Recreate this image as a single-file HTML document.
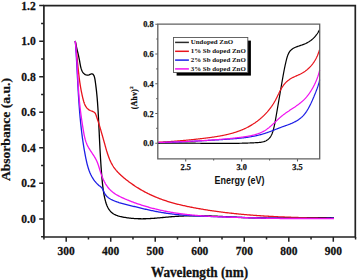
<!DOCTYPE html>
<html><head><meta charset="utf-8"><style>
html,body{margin:0;padding:0;background:#fff;width:357px;height:280px;overflow:hidden}
svg{display:block}

</style></head><body>
<svg width="357" height="280" viewBox="0 0 357 280"><rect width="357" height="280" fill="#fff"/><g fill="none" stroke-width="1.3" stroke-linejoin="round" stroke-linecap="butt"><path d="M75.29,40.96 L75.48,42.07 L75.68,43.14 L75.88,44.19 L76.09,45.22 L76.30,46.22 L76.52,47.21 L76.75,48.19 L76.97,49.15 L77.20,50.10 L77.43,51.05 L77.66,52.00 L77.89,52.95 L78.11,53.89 L78.34,54.85 L78.56,55.81 L78.78,56.79 L78.99,57.78 L79.19,58.79 L79.39,59.81 L79.58,60.86 L79.76,61.94 L79.95,63.03 L80.14,64.12 L80.34,65.22 L80.56,66.30 L80.81,67.36 L81.09,68.40 L81.41,69.39 L81.77,70.35 L82.19,71.24 L82.67,72.08 L83.21,72.84 L83.83,73.52 L84.53,74.10 L85.32,74.59 L86.18,74.96 L87.12,75.17 L88.10,75.17 L89.11,74.94 L90.13,74.46 L91.12,73.98 L92.01,73.80 L92.76,74.07 L93.40,74.71 L93.91,75.59 L94.30,76.58 L94.60,77.60 L94.82,78.62 L95.00,79.64 L95.15,80.67 L95.30,81.70 L95.45,82.72 L95.59,83.75 L95.72,84.77 L95.86,85.79 L95.98,86.82 L96.11,87.84 L96.23,88.86 L96.35,89.89 L96.46,90.91 L96.57,91.93 L96.67,92.95 L96.78,93.97 L96.88,94.99 L96.97,96.01 L97.07,97.03 L97.16,98.05 L97.24,99.07 L97.33,100.09 L97.41,101.11 L97.49,102.13 L97.57,103.15 L97.64,104.17 L97.71,105.19 L97.78,106.21 L97.85,107.23 L97.92,108.25 L97.98,109.27 L98.04,110.29 L98.11,111.31 L98.17,112.33 L98.22,113.35 L98.28,114.37 L98.34,115.39 L98.39,116.41 L98.45,117.43 L98.50,118.45 L98.55,119.47 L98.60,120.49 L98.65,121.52 L98.70,122.54 L98.75,123.56 L98.80,124.59 L98.85,125.61 L98.90,126.63 L98.95,127.66 L99.00,128.68 L99.05,129.71 L99.10,130.74 L99.15,131.76 L99.20,132.79 L99.25,133.81 L99.29,134.84 L99.34,135.87 L99.39,136.89 L99.44,137.92 L99.49,138.94 L99.54,139.97 L99.59,141.00 L99.64,142.03 L99.69,143.05 L99.74,144.08 L99.80,145.11 L99.85,146.13 L99.90,147.16 L99.95,148.19 L100.01,149.21 L100.06,150.24 L100.12,151.26 L100.17,152.29 L100.23,153.32 L100.29,154.34 L100.35,155.37 L100.41,156.39 L100.47,157.42 L100.53,158.44 L100.59,159.46 L100.66,160.49 L100.72,161.51 L100.79,162.53 L100.85,163.56 L100.92,164.58 L100.99,165.60 L101.06,166.62 L101.13,167.64 L101.21,168.66 L101.28,169.68 L101.36,170.70 L101.44,171.72 L101.52,172.74 L101.60,173.76 L101.68,174.77 L101.76,175.79 L101.85,176.80 L101.94,177.82 L102.03,178.83 L102.12,179.85 L102.21,180.86 L102.31,181.87 L102.41,182.88 L102.51,183.89 L102.62,184.90 L102.73,185.91 L102.85,186.93 L102.97,187.94 L103.10,188.95 L103.24,189.96 L103.39,190.97 L103.55,191.99 L103.71,193.00 L103.89,194.02 L104.08,195.04 L104.28,196.06 L104.50,197.08 L104.72,198.11 L104.96,199.13 L105.22,200.16 L105.49,201.18 L105.79,202.20 L106.10,203.20 L106.45,204.19 L106.81,205.17 L107.21,206.12 L107.64,207.05 L108.10,207.95 L108.60,208.82 L109.14,209.65 L109.72,210.44 L110.34,211.19 L111.00,211.90 L111.72,212.55 L112.48,213.15 L113.29,213.71 L114.14,214.21 L115.03,214.67 L115.95,215.09 L116.90,215.47 L117.88,215.82 L118.88,216.13 L119.90,216.42 L120.94,216.67 L121.98,216.90 L123.03,217.11 L124.09,217.31 L125.14,217.48 L126.19,217.65 L127.23,217.80 L128.27,217.94 L129.31,218.07 L130.34,218.18 L131.37,218.29 L132.39,218.38 L133.42,218.47 L134.44,218.54 L135.46,218.60 L136.47,218.65 L137.49,218.70 L138.50,218.73 L139.51,218.75 L140.52,218.77 L141.53,218.78 L142.54,218.78 L143.55,218.77 L144.55,218.75 L145.56,218.73 L146.57,218.70 L147.58,218.66 L148.59,218.61 L149.61,218.56 L150.62,218.51 L151.64,218.44 L152.65,218.38 L153.67,218.30 L154.69,218.23 L155.72,218.15 L156.74,218.06 L157.76,217.97 L158.79,217.88 L159.81,217.79 L160.84,217.70 L161.86,217.60 L162.89,217.51 L163.92,217.41 L164.95,217.32 L165.98,217.22 L167.00,217.13 L168.03,217.03 L169.06,216.94 L170.09,216.85 L171.11,216.77 L172.14,216.69 L173.17,216.61 L174.19,216.53 L175.22,216.46 L176.24,216.39 L177.27,216.33 L178.29,216.26 L179.31,216.21 L180.34,216.15 L181.36,216.10 L182.38,216.05 L183.41,216.01 L184.43,215.97 L185.45,215.93 L186.47,215.89 L187.49,215.86 L188.51,215.83 L189.54,215.81 L190.56,215.79 L191.58,215.77 L192.60,215.76 L193.62,215.75 L194.64,215.74 L195.66,215.73 L196.68,215.73 L197.71,215.73 L198.73,215.74 L199.75,215.74 L200.77,215.76 L201.79,215.77 L202.82,215.79 L203.84,215.81 L204.86,215.83 L205.88,215.85 L206.91,215.88 L207.93,215.91 L208.95,215.95 L209.98,215.98 L211.00,216.02 L212.03,216.05 L213.05,216.10 L214.07,216.14 L215.10,216.18 L216.12,216.23 L217.15,216.27 L218.17,216.32 L219.20,216.37 L220.22,216.42 L221.25,216.47 L222.27,216.52 L223.30,216.57 L224.32,216.62 L225.35,216.68 L226.37,216.73 L227.40,216.78 L228.42,216.84 L229.45,216.89 L230.47,216.94 L231.50,217.00 L232.53,217.05 L233.55,217.10 L234.58,217.15 L235.60,217.20 L236.63,217.25 L237.65,217.30 L238.68,217.35 L239.70,217.40 L240.73,217.44 L241.76,217.48 L242.78,217.53 L243.81,217.57 L244.83,217.60 L245.86,217.64 L246.88,217.68 L247.91,217.71 L248.93,217.74 L249.96,217.77 L250.98,217.80 L252.01,217.82 L253.03,217.85 L254.06,217.87 L255.08,217.89 L256.11,217.91 L257.13,217.93 L258.16,217.94 L259.18,217.96 L260.21,217.97 L261.23,217.98 L262.26,217.99 L263.28,218.00 L264.31,218.01 L265.33,218.02 L266.36,218.02 L267.38,218.03 L268.41,218.03 L269.43,218.04 L270.45,218.04 L271.48,218.04 L272.50,218.04 L273.53,218.04 L274.55,218.03 L275.58,218.03 L276.60,218.03 L277.63,218.02 L278.65,218.02 L279.68,218.01 L280.70,218.01 L281.72,218.00 L282.75,217.99 L283.77,217.98 L284.80,217.98 L285.82,217.97 L286.85,217.96 L287.87,217.95 L288.90,217.94 L289.92,217.93 L290.94,217.92 L291.97,217.91 L292.99,217.90 L294.02,217.89 L295.04,217.88 L296.07,217.87 L297.09,217.86 L298.12,217.84 L299.14,217.83 L300.17,217.82 L301.19,217.81 L302.21,217.80 L303.24,217.79 L304.26,217.78 L305.29,217.78 L306.31,217.77 L307.34,217.76 L308.36,217.75 L309.39,217.74 L310.41,217.74 L311.44,217.73 L312.46,217.72 L313.49,217.72 L314.51,217.72 L315.54,217.71 L316.56,217.71 L317.59,217.71 L318.61,217.71 L319.64,217.71 L320.67,217.71 L321.69,217.71 L322.72,217.71 L323.74,217.71 L324.77,217.72 L325.79,217.72 L326.82,217.73 L327.85,217.74 L328.87,217.75 L329.90,217.76 L330.92,217.77 L331.95,217.78 L332.98,217.80 L334.00,217.82" stroke="#000"/><path d="M75.28,40.99 L75.40,41.91 L75.51,42.83 L75.63,43.76 L75.74,44.68 L75.85,45.60 L75.95,46.52 L76.06,47.44 L76.16,48.36 L76.26,49.28 L76.36,50.20 L76.45,51.12 L76.55,52.04 L76.64,52.96 L76.73,53.88 L76.82,54.80 L76.91,55.72 L77.00,56.64 L77.09,57.56 L77.18,58.47 L77.27,59.39 L77.35,60.31 L77.44,61.23 L77.53,62.15 L77.62,63.06 L77.71,63.98 L77.79,64.90 L77.88,65.81 L77.98,66.73 L78.07,67.65 L78.16,68.56 L78.26,69.48 L78.35,70.39 L78.45,71.31 L78.55,72.22 L78.65,73.14 L78.76,74.06 L78.86,74.97 L78.97,75.89 L79.08,76.80 L79.20,77.71 L79.32,78.63 L79.44,79.54 L79.56,80.46 L79.69,81.37 L79.82,82.29 L79.95,83.20 L80.09,84.11 L80.24,85.03 L80.38,85.94 L80.53,86.85 L80.69,87.77 L80.85,88.68 L81.02,89.59 L81.19,90.51 L81.36,91.42 L81.54,92.33 L81.73,93.24 L81.92,94.16 L82.12,95.07 L82.33,95.98 L82.54,96.89 L82.75,97.81 L82.98,98.72 L83.21,99.63 L83.45,100.54 L83.70,101.44 L83.97,102.33 L84.27,103.20 L84.59,104.06 L84.95,104.88 L85.34,105.68 L85.77,106.45 L86.25,107.18 L86.77,107.86 L87.35,108.50 L87.99,109.09 L88.70,109.62 L89.46,110.09 L90.31,110.50 L91.20,110.86 L92.12,111.20 L93.01,111.56 L93.83,111.98 L94.55,112.49 L95.12,113.13 L95.55,113.88 L95.89,114.72 L96.19,115.58 L96.49,116.44 L96.79,117.31 L97.08,118.18 L97.36,119.05 L97.65,119.92 L97.93,120.79 L98.21,121.66 L98.49,122.53 L98.76,123.41 L99.03,124.28 L99.30,125.16 L99.57,126.03 L99.83,126.91 L100.09,127.79 L100.35,128.67 L100.61,129.55 L100.87,130.43 L101.13,131.31 L101.38,132.20 L101.64,133.08 L101.89,133.97 L102.14,134.86 L102.39,135.75 L102.64,136.64 L102.89,137.53 L103.14,138.42 L103.39,139.31 L103.64,140.20 L103.89,141.10 L104.14,142.00 L104.39,142.89 L104.64,143.79 L104.89,144.69 L105.14,145.59 L105.39,146.50 L105.65,147.40 L105.90,148.30 L106.16,149.21 L106.43,150.11 L106.69,151.01 L106.97,151.90 L107.25,152.80 L107.53,153.69 L107.83,154.58 L108.13,155.46 L108.44,156.33 L108.76,157.21 L109.09,158.07 L109.44,158.93 L109.79,159.78 L110.16,160.62 L110.54,161.46 L110.93,162.28 L111.34,163.10 L111.77,163.90 L112.21,164.70 L112.67,165.48 L113.15,166.25 L113.64,167.01 L114.16,167.76 L114.69,168.49 L115.25,169.21 L115.82,169.92 L116.40,170.61 L117.01,171.30 L117.62,171.97 L118.25,172.63 L118.90,173.29 L119.55,173.93 L120.22,174.57 L120.89,175.19 L121.58,175.81 L122.27,176.42 L122.97,177.03 L123.68,177.63 L124.39,178.22 L125.10,178.81 L125.82,179.39 L126.54,179.97 L127.27,180.54 L128.01,181.10 L128.74,181.66 L129.48,182.21 L130.23,182.76 L130.98,183.30 L131.73,183.84 L132.49,184.37 L133.25,184.89 L134.02,185.41 L134.79,185.93 L135.56,186.43 L136.34,186.93 L137.12,187.43 L137.91,187.92 L138.70,188.40 L139.49,188.88 L140.28,189.35 L141.08,189.82 L141.88,190.28 L142.69,190.73 L143.50,191.18 L144.31,191.62 L145.13,192.06 L145.95,192.49 L146.77,192.91 L147.59,193.33 L148.42,193.74 L149.25,194.15 L150.08,194.55 L150.92,194.94 L151.76,195.33 L152.60,195.71 L153.44,196.08 L154.29,196.45 L155.14,196.82 L155.99,197.17 L156.84,197.52 L157.70,197.87 L158.56,198.21 L159.42,198.54 L160.28,198.87 L161.14,199.19 L162.01,199.50 L162.88,199.81 L163.75,200.11 L164.62,200.41 L165.50,200.70 L166.37,200.99 L167.25,201.27 L168.13,201.54 L169.01,201.81 L169.90,202.08 L170.78,202.34 L171.67,202.60 L172.55,202.85 L173.44,203.09 L174.33,203.34 L175.22,203.57 L176.12,203.81 L177.01,204.04 L177.91,204.26 L178.80,204.49 L179.70,204.70 L180.60,204.92 L181.50,205.13 L182.40,205.34 L183.30,205.54 L184.20,205.74 L185.11,205.94 L186.01,206.13 L186.91,206.33 L187.82,206.52 L188.72,206.70 L189.63,206.89 L190.54,207.07 L191.44,207.25 L192.35,207.42 L193.26,207.60 L194.17,207.77 L195.08,207.94 L195.98,208.11 L196.89,208.28 L197.80,208.44 L198.71,208.60 L199.62,208.76 L200.53,208.92 L201.44,209.08 L202.35,209.23 L203.26,209.39 L204.18,209.54 L205.09,209.69 L206.00,209.84 L206.91,209.98 L207.82,210.13 L208.74,210.27 L209.65,210.41 L210.56,210.55 L211.47,210.68 L212.39,210.82 L213.30,210.95 L214.22,211.08 L215.13,211.21 L216.04,211.34 L216.96,211.47 L217.87,211.59 L218.79,211.72 L219.70,211.84 L220.62,211.96 L221.53,212.08 L222.45,212.19 L223.37,212.31 L224.28,212.42 L225.20,212.53 L226.12,212.64 L227.03,212.75 L227.95,212.86 L228.87,212.96 L229.78,213.07 L230.70,213.17 L231.62,213.27 L232.54,213.37 L233.46,213.47 L234.37,213.57 L235.29,213.66 L236.21,213.76 L237.13,213.85 L238.05,213.94 L238.97,214.03 L239.89,214.12 L240.81,214.21 L241.73,214.29 L242.65,214.38 L243.57,214.46 L244.49,214.54 L245.41,214.62 L246.33,214.70 L247.25,214.78 L248.17,214.86 L249.09,214.93 L250.01,215.01 L250.93,215.08 L251.85,215.15 L252.77,215.22 L253.69,215.29 L254.62,215.36 L255.54,215.43 L256.46,215.50 L257.38,215.56 L258.30,215.62 L259.22,215.69 L260.15,215.75 L261.07,215.81 L261.99,215.87 L262.91,215.93 L263.84,215.99 L264.76,216.04 L265.68,216.10 L266.60,216.15 L267.53,216.21 L268.45,216.26 L269.37,216.31 L270.30,216.36 L271.22,216.41 L272.14,216.46 L273.06,216.51 L273.99,216.56 L274.91,216.60 L275.83,216.65 L276.76,216.69 L277.68,216.74 L278.60,216.78 L279.53,216.82 L280.45,216.86 L281.37,216.90 L282.30,216.94 L283.22,216.98 L284.15,217.02 L285.07,217.06 L285.99,217.09 L286.92,217.13 L287.84,217.17 L288.76,217.20 L289.69,217.24 L290.61,217.27 L291.53,217.30 L292.46,217.33 L293.38,217.37 L294.31,217.40 L295.23,217.43 L296.15,217.46 L297.08,217.49 L298.00,217.52 L298.92,217.54 L299.85,217.57 L300.77,217.60 L301.69,217.63 L302.62,217.65 L303.54,217.68 L304.47,217.70 L305.39,217.73 L306.31,217.75 L307.24,217.78 L308.16,217.80 L309.08,217.82 L310.00,217.85 L310.93,217.87 L311.85,217.89 L312.77,217.91 L313.70,217.93 L314.62,217.95 L315.54,217.98 L316.47,218.00 L317.39,218.02 L318.31,218.04 L319.23,218.06 L320.16,218.08 L321.08,218.10 L322.00,218.11 L322.92,218.13 L323.84,218.15 L324.77,218.17 L325.69,218.19 L326.61,218.21 L327.53,218.23 L328.45,218.24 L329.37,218.26 L330.30,218.28 L331.22,218.30 L332.14,218.31 L333.06,218.33 L333.98,218.35" stroke="#e8141c"/><path d="M75.31,40.99 L75.38,41.97 L75.45,42.96 L75.52,43.94 L75.59,44.92 L75.66,45.90 L75.73,46.89 L75.79,47.87 L75.86,48.85 L75.92,49.83 L75.98,50.82 L76.04,51.80 L76.10,52.78 L76.16,53.76 L76.22,54.75 L76.28,55.73 L76.34,56.71 L76.40,57.69 L76.45,58.68 L76.51,59.66 L76.56,60.64 L76.62,61.63 L76.67,62.61 L76.73,63.59 L76.78,64.57 L76.83,65.56 L76.89,66.54 L76.94,67.52 L76.99,68.51 L77.04,69.49 L77.09,70.47 L77.14,71.45 L77.20,72.44 L77.25,73.42 L77.30,74.40 L77.35,75.39 L77.40,76.37 L77.45,77.35 L77.51,78.33 L77.56,79.32 L77.61,80.30 L77.66,81.28 L77.71,82.26 L77.77,83.25 L77.82,84.23 L77.87,85.21 L77.93,86.19 L77.98,87.17 L78.04,88.16 L78.09,89.14 L78.15,90.12 L78.21,91.10 L78.27,92.08 L78.32,93.07 L78.38,94.05 L78.44,95.03 L78.50,96.01 L78.57,96.99 L78.63,97.97 L78.69,98.96 L78.76,99.94 L78.82,100.92 L78.89,101.90 L78.96,102.88 L79.03,103.86 L79.10,104.84 L79.17,105.82 L79.24,106.80 L79.31,107.78 L79.39,108.76 L79.46,109.74 L79.54,110.72 L79.62,111.70 L79.70,112.68 L79.78,113.66 L79.87,114.64 L79.95,115.62 L80.04,116.60 L80.13,117.58 L80.22,118.55 L80.31,119.53 L80.41,120.51 L80.50,121.49 L80.60,122.47 L80.70,123.45 L80.80,124.42 L80.91,125.40 L81.01,126.38 L81.12,127.35 L81.23,128.33 L81.34,129.31 L81.46,130.28 L81.57,131.26 L81.69,132.24 L81.81,133.21 L81.94,134.19 L82.06,135.16 L82.19,136.14 L82.32,137.11 L82.45,138.09 L82.59,139.06 L82.73,140.04 L82.87,141.01 L83.01,141.99 L83.16,142.96 L83.31,143.93 L83.46,144.91 L83.61,145.88 L83.77,146.85 L83.93,147.83 L84.09,148.80 L84.26,149.77 L84.43,150.74 L84.60,151.71 L84.78,152.69 L84.95,153.66 L85.14,154.63 L85.32,155.60 L85.51,156.57 L85.70,157.54 L85.89,158.51 L86.09,159.48 L86.30,160.44 L86.51,161.41 L86.73,162.37 L86.96,163.33 L87.20,164.29 L87.45,165.24 L87.71,166.18 L87.98,167.13 L88.26,168.06 L88.56,168.99 L88.88,169.92 L89.21,170.84 L89.56,171.75 L89.92,172.65 L90.31,173.54 L90.71,174.43 L91.14,175.30 L91.59,176.17 L92.06,177.02 L92.56,177.86 L93.08,178.70 L93.62,179.52 L94.20,180.32 L94.79,181.12 L95.42,181.89 L96.07,182.65 L96.74,183.38 L97.44,184.08 L98.16,184.76 L98.90,185.40 L99.67,186.01 L100.43,186.60 L101.16,187.22 L101.82,187.92 L102.38,188.72 L102.88,189.60 L103.33,190.52 L103.75,191.48 L104.18,192.43 L104.62,193.35 L105.12,194.22 L105.68,195.03 L106.28,195.78 L106.94,196.48 L107.63,197.12 L108.37,197.72 L109.15,198.27 L109.95,198.79 L110.79,199.26 L111.65,199.71 L112.52,200.13 L113.41,200.52 L114.31,200.90 L115.22,201.25 L116.14,201.59 L117.06,201.92 L117.99,202.23 L118.92,202.53 L119.86,202.81 L120.80,203.09 L121.74,203.36 L122.69,203.62 L123.65,203.87 L124.60,204.12 L125.56,204.36 L126.51,204.60 L127.47,204.84 L128.43,205.08 L129.39,205.32 L130.35,205.55 L131.30,205.79 L132.26,206.03 L133.22,206.27 L134.18,206.50 L135.13,206.74 L136.09,206.97 L137.05,207.21 L138.01,207.44 L138.97,207.67 L139.92,207.90 L140.88,208.13 L141.84,208.36 L142.80,208.59 L143.76,208.81 L144.72,209.03 L145.68,209.25 L146.64,209.47 L147.59,209.69 L148.56,209.90 L149.52,210.11 L150.48,210.32 L151.44,210.52 L152.40,210.73 L153.36,210.92 L154.32,211.12 L155.29,211.31 L156.25,211.50 L157.22,211.69 L158.18,211.87 L159.15,212.04 L160.11,212.22 L161.08,212.38 L162.05,212.55 L163.01,212.71 L163.98,212.86 L164.95,213.01 L165.92,213.16 L166.89,213.30 L167.86,213.44 L168.84,213.57 L169.81,213.70 L170.78,213.83 L171.76,213.95 L172.73,214.06 L173.71,214.18 L174.68,214.29 L175.66,214.39 L176.64,214.49 L177.61,214.59 L178.59,214.69 L179.57,214.78 L180.55,214.87 L181.53,214.95 L182.51,215.04 L183.49,215.12 L184.47,215.19 L185.45,215.27 L186.43,215.34 L187.41,215.41 L188.40,215.47 L189.38,215.54 L190.36,215.60 L191.34,215.66 L192.33,215.72 L193.31,215.77 L194.29,215.82 L195.28,215.87 L196.26,215.92 L197.25,215.97 L198.23,216.02 L199.22,216.06 L200.20,216.10 L201.19,216.15 L202.17,216.19 L203.16,216.22 L204.14,216.26 L205.13,216.30 L206.11,216.34 L207.10,216.37 L208.08,216.41 L209.07,216.44 L210.05,216.47 L211.04,216.51 L212.03,216.54 L213.01,216.57 L214.00,216.60 L214.98,216.63 L215.97,216.66 L216.95,216.70 L217.94,216.73 L218.92,216.76 L219.91,216.79 L220.89,216.82 L221.88,216.85 L222.86,216.88 L223.84,216.91 L224.83,216.94 L225.81,216.97 L226.80,217.01 L227.78,217.04 L228.77,217.07 L229.75,217.10 L230.73,217.13 L231.72,217.16 L232.70,217.18 L233.68,217.21 L234.67,217.24 L235.65,217.27 L236.63,217.30 L237.62,217.33 L238.60,217.36 L239.58,217.39 L240.57,217.41 L241.55,217.44 L242.53,217.47 L243.52,217.50 L244.50,217.52 L245.48,217.55 L246.46,217.58 L247.45,217.60 L248.43,217.63 L249.41,217.66 L250.40,217.68 L251.38,217.71 L252.36,217.73 L253.34,217.76 L254.33,217.78 L255.31,217.80 L256.29,217.83 L257.27,217.85 L258.26,217.87 L259.24,217.90 L260.22,217.92 L261.20,217.94 L262.19,217.96 L263.17,217.98 L264.15,218.01 L265.13,218.03 L266.12,218.05 L267.10,218.07 L268.08,218.09 L269.06,218.10 L270.05,218.12 L271.03,218.14 L272.01,218.16 L272.99,218.18 L273.98,218.19 L274.96,218.21 L275.94,218.22 L276.92,218.24 L277.91,218.25 L278.89,218.27 L279.87,218.28 L280.85,218.30 L281.84,218.31 L282.82,218.32 L283.80,218.33 L284.78,218.35 L285.77,218.36 L286.75,218.37 L287.73,218.38 L288.71,218.39 L289.70,218.40 L290.68,218.40 L291.66,218.41 L292.65,218.42 L293.63,218.43 L294.61,218.43 L295.60,218.44 L296.58,218.44 L297.56,218.45 L298.55,218.45 L299.53,218.45 L300.51,218.45 L301.50,218.46 L302.48,218.46 L303.46,218.46 L304.45,218.46 L305.43,218.46 L306.42,218.46 L307.40,218.45 L308.39,218.45 L309.37,218.45 L310.35,218.44 L311.34,218.44 L312.32,218.43 L313.31,218.43 L314.29,218.42 L315.28,218.41 L316.26,218.40 L317.25,218.40 L318.23,218.39 L319.22,218.37 L320.20,218.36 L321.19,218.35 L322.17,218.34 L323.16,218.32 L324.15,218.31 L325.13,218.30 L326.12,218.28 L327.10,218.26 L328.09,218.25 L329.08,218.23 L330.06,218.21 L331.05,218.19 L332.04,218.17 L333.02,218.15 L334.01,218.12" stroke="#1d1ee6"/><path d="M75.24,41.00 L75.34,41.96 L75.44,42.92 L75.54,43.88 L75.64,44.84 L75.73,45.80 L75.82,46.76 L75.90,47.73 L75.99,48.69 L76.07,49.65 L76.15,50.61 L76.23,51.57 L76.30,52.53 L76.37,53.49 L76.44,54.46 L76.51,55.42 L76.58,56.38 L76.64,57.34 L76.71,58.30 L76.77,59.27 L76.83,60.23 L76.89,61.19 L76.95,62.15 L77.00,63.11 L77.06,64.08 L77.11,65.04 L77.17,66.00 L77.22,66.96 L77.27,67.93 L77.33,68.89 L77.38,69.85 L77.43,70.81 L77.48,71.78 L77.53,72.74 L77.58,73.70 L77.63,74.66 L77.68,75.63 L77.74,76.59 L77.79,77.55 L77.84,78.51 L77.89,79.47 L77.95,80.44 L78.00,81.40 L78.05,82.36 L78.11,83.32 L78.17,84.28 L78.23,85.25 L78.28,86.21 L78.34,87.17 L78.41,88.13 L78.47,89.09 L78.53,90.05 L78.60,91.01 L78.67,91.98 L78.74,92.94 L78.81,93.90 L78.89,94.86 L78.96,95.82 L79.04,96.78 L79.12,97.74 L79.21,98.70 L79.29,99.66 L79.38,100.62 L79.47,101.58 L79.57,102.54 L79.67,103.50 L79.76,104.46 L79.87,105.42 L79.97,106.37 L80.08,107.33 L80.19,108.29 L80.30,109.25 L80.41,110.21 L80.53,111.16 L80.65,112.12 L80.77,113.08 L80.90,114.04 L81.02,114.99 L81.15,115.95 L81.28,116.91 L81.41,117.86 L81.55,118.82 L81.68,119.78 L81.82,120.73 L81.96,121.69 L82.11,122.64 L82.25,123.60 L82.40,124.55 L82.55,125.51 L82.70,126.46 L82.85,127.42 L83.00,128.37 L83.16,129.32 L83.32,130.28 L83.48,131.23 L83.64,132.18 L83.81,133.13 L83.99,134.08 L84.17,135.03 L84.37,135.97 L84.57,136.90 L84.79,137.84 L85.03,138.76 L85.28,139.68 L85.55,140.59 L85.84,141.50 L86.15,142.39 L86.49,143.28 L86.84,144.16 L87.23,145.02 L87.64,145.88 L88.08,146.72 L88.54,147.56 L89.03,148.39 L89.53,149.21 L90.04,150.02 L90.56,150.83 L91.10,151.64 L91.63,152.45 L92.17,153.25 L92.71,154.06 L93.25,154.87 L93.77,155.68 L94.29,156.49 L94.79,157.32 L95.28,158.15 L95.74,158.98 L96.19,159.83 L96.60,160.69 L96.99,161.56 L97.36,162.44 L97.70,163.33 L98.03,164.23 L98.34,165.13 L98.64,166.04 L98.93,166.96 L99.21,167.88 L99.49,168.80 L99.77,169.72 L100.05,170.65 L100.34,171.57 L100.63,172.50 L100.93,173.42 L101.24,174.34 L101.57,175.26 L101.91,176.18 L102.26,177.09 L102.64,177.99 L103.02,178.89 L103.42,179.78 L103.84,180.66 L104.28,181.53 L104.74,182.39 L105.21,183.24 L105.70,184.07 L106.21,184.89 L106.74,185.69 L107.30,186.48 L107.87,187.24 L108.46,187.99 L109.08,188.71 L109.72,189.41 L110.38,190.09 L111.07,190.74 L111.77,191.37 L112.51,191.98 L113.26,192.56 L114.03,193.12 L114.82,193.66 L115.62,194.18 L116.44,194.68 L117.27,195.17 L118.12,195.64 L118.97,196.09 L119.84,196.54 L120.71,196.97 L121.59,197.39 L122.47,197.80 L123.36,198.20 L124.25,198.59 L125.14,198.98 L126.03,199.36 L126.92,199.74 L127.82,200.11 L128.71,200.47 L129.61,200.83 L130.50,201.18 L131.40,201.53 L132.30,201.88 L133.20,202.21 L134.11,202.54 L135.01,202.87 L135.92,203.20 L136.83,203.51 L137.73,203.83 L138.65,204.14 L139.56,204.44 L140.47,204.74 L141.39,205.04 L142.31,205.33 L143.22,205.62 L144.14,205.90 L145.07,206.18 L145.99,206.45 L146.91,206.72 L147.84,206.99 L148.77,207.25 L149.70,207.51 L150.63,207.76 L151.56,208.01 L152.49,208.26 L153.42,208.50 L154.36,208.73 L155.29,208.97 L156.23,209.19 L157.17,209.42 L158.11,209.64 L159.05,209.85 L159.99,210.07 L160.93,210.27 L161.87,210.48 L162.81,210.68 L163.76,210.87 L164.70,211.07 L165.65,211.25 L166.59,211.44 L167.54,211.62 L168.49,211.79 L169.44,211.97 L170.39,212.13 L171.34,212.30 L172.29,212.46 L173.24,212.62 L174.19,212.77 L175.14,212.92 L176.09,213.06 L177.04,213.21 L178.00,213.34 L178.95,213.48 L179.91,213.61 L180.86,213.74 L181.81,213.86 L182.77,213.99 L183.73,214.10 L184.68,214.22 L185.64,214.33 L186.60,214.44 L187.55,214.55 L188.51,214.65 L189.47,214.75 L190.43,214.85 L191.39,214.95 L192.34,215.04 L193.30,215.13 L194.26,215.22 L195.22,215.30 L196.18,215.38 L197.15,215.46 L198.11,215.54 L199.07,215.62 L200.03,215.69 L200.99,215.76 L201.95,215.83 L202.91,215.90 L203.88,215.96 L204.84,216.03 L205.80,216.09 L206.76,216.15 L207.73,216.21 L208.69,216.26 L209.65,216.32 L210.62,216.37 L211.58,216.42 L212.55,216.47 L213.51,216.52 L214.47,216.57 L215.44,216.62 L216.40,216.66 L217.37,216.70 L218.33,216.75 L219.30,216.79 L220.26,216.83 L221.22,216.87 L222.19,216.91 L223.15,216.95 L224.12,216.98 L225.08,217.02 L226.05,217.06 L227.01,217.09 L227.98,217.13 L228.94,217.16 L229.91,217.20 L230.87,217.23 L231.83,217.26 L232.80,217.30 L233.76,217.33 L234.73,217.36 L235.69,217.40 L236.65,217.43 L237.62,217.46 L238.58,217.49 L239.55,217.52 L240.51,217.55 L241.47,217.58 L242.44,217.61 L243.40,217.64 L244.37,217.67 L245.33,217.70 L246.29,217.73 L247.26,217.76 L248.22,217.78 L249.18,217.81 L250.15,217.84 L251.11,217.86 L252.07,217.89 L253.04,217.92 L254.00,217.94 L254.96,217.97 L255.93,217.99 L256.89,218.02 L257.85,218.04 L258.82,218.06 L259.78,218.09 L260.74,218.11 L261.71,218.13 L262.67,218.15 L263.63,218.17 L264.60,218.20 L265.56,218.22 L266.52,218.24 L267.49,218.26 L268.45,218.28 L269.41,218.30 L270.38,218.31 L271.34,218.33 L272.30,218.35 L273.26,218.37 L274.23,218.38 L275.19,218.40 L276.15,218.42 L277.12,218.43 L278.08,218.45 L279.04,218.46 L280.01,218.48 L280.97,218.49 L281.93,218.51 L282.90,218.52 L283.86,218.53 L284.82,218.54 L285.79,218.56 L286.75,218.57 L287.71,218.58 L288.68,218.59 L289.64,218.60 L290.60,218.61 L291.57,218.62 L292.53,218.63 L293.49,218.64 L294.46,218.64 L295.42,218.65 L296.38,218.66 L297.35,218.67 L298.31,218.67 L299.28,218.68 L300.24,218.68 L301.20,218.69 L302.17,218.69 L303.13,218.69 L304.09,218.70 L305.06,218.70 L306.02,218.70 L306.99,218.70 L307.95,218.71 L308.91,218.71 L309.88,218.71 L310.84,218.71 L311.81,218.71 L312.77,218.71 L313.74,218.70 L314.70,218.70 L315.66,218.70 L316.63,218.70 L317.59,218.69 L318.56,218.69 L319.52,218.68 L320.49,218.68 L321.45,218.67 L322.42,218.67 L323.38,218.66 L324.35,218.65 L325.31,218.65 L326.28,218.64 L327.24,218.63 L328.21,218.62 L329.18,218.61 L330.14,218.60 L331.11,218.59 L332.07,218.58 L333.04,218.56 L334.00,218.55" stroke="#f012f0"/></g><g stroke="#222" stroke-width="1.7" fill="none"><path d="M43.9,5.6 H355.3 V237.0 H43.9 Z"/></g><path d="M39.199999999999996,218.90 H43.9 M39.199999999999996,183.35 H43.9 M39.199999999999996,147.80 H43.9 M39.199999999999996,112.25 H43.9 M39.199999999999996,76.70 H43.9 M39.199999999999996,41.15 H43.9 M39.199999999999996,5.60 H43.9 M41.1,236.68 H43.9 M41.1,201.12 H43.9 M41.1,165.57 H43.9 M41.1,130.03 H43.9 M41.1,94.47 H43.9 M41.1,58.93 H43.9 M41.1,23.38 H43.9 M66.20,237.0 V241.8 M110.72,237.0 V241.8 M155.23,237.0 V241.8 M199.75,237.0 V241.8 M244.27,237.0 V241.8 M288.79,237.0 V241.8 M333.30,237.0 V241.8 M43.94,237.0 V239.6 M88.46,237.0 V239.6 M132.98,237.0 V239.6 M177.49,237.0 V239.6 M222.01,237.0 V239.6 M266.53,237.0 V239.6 M311.04,237.0 V239.6 M355.56,237.0 V239.6" stroke="#222" stroke-width="1.5" fill="none"/><rect x="157.8" y="24.2" width="161.89999999999998" height="134.70000000000002" fill="#fff"/><g fill="none" stroke-width="1.2" stroke-linejoin="round"><path d="M158.00,143.31 L158.61,143.29 L159.22,143.28 L159.83,143.26 L160.44,143.25 L161.05,143.24 L161.66,143.23 L162.27,143.22 L162.88,143.20 L163.49,143.19 L164.09,143.19 L164.70,143.18 L165.31,143.17 L165.92,143.16 L166.52,143.15 L167.13,143.15 L167.74,143.14 L168.34,143.13 L168.95,143.13 L169.55,143.12 L170.16,143.12 L170.77,143.11 L171.37,143.11 L171.97,143.11 L172.58,143.11 L173.18,143.10 L173.79,143.10 L174.39,143.10 L174.99,143.10 L175.60,143.10 L176.20,143.10 L176.80,143.10 L177.40,143.10 L178.01,143.10 L178.61,143.10 L179.21,143.10 L179.81,143.10 L180.41,143.10 L181.01,143.10 L181.61,143.11 L182.22,143.11 L182.82,143.11 L183.42,143.12 L184.02,143.12 L184.62,143.12 L185.22,143.13 L185.82,143.13 L186.42,143.14 L187.02,143.14 L187.62,143.14 L188.21,143.15 L188.81,143.15 L189.41,143.16 L190.01,143.16 L190.61,143.17 L191.21,143.18 L191.81,143.18 L192.41,143.19 L193.00,143.19 L193.60,143.20 L194.20,143.21 L194.80,143.21 L195.40,143.22 L195.99,143.23 L196.59,143.23 L197.19,143.24 L197.79,143.24 L198.39,143.25 L198.98,143.26 L199.58,143.26 L200.18,143.27 L200.78,143.28 L201.37,143.28 L201.97,143.29 L202.57,143.30 L203.17,143.30 L203.76,143.31 L204.36,143.32 L204.96,143.32 L205.56,143.33 L206.15,143.34 L206.75,143.34 L207.35,143.35 L207.95,143.35 L208.54,143.36 L209.14,143.37 L209.74,143.37 L210.34,143.38 L210.93,143.38 L211.53,143.39 L212.13,143.39 L212.73,143.40 L213.32,143.40 L213.92,143.40 L214.52,143.41 L215.12,143.41 L215.72,143.42 L216.32,143.42 L216.91,143.42 L217.51,143.43 L218.11,143.43 L218.71,143.43 L219.31,143.43 L219.91,143.43 L220.51,143.44 L221.11,143.44 L221.71,143.44 L222.30,143.44 L222.90,143.44 L223.50,143.44 L224.10,143.44 L224.70,143.44 L225.30,143.44 L225.91,143.43 L226.51,143.43 L227.11,143.43 L227.71,143.43 L228.31,143.42 L228.91,143.42 L229.51,143.42 L230.11,143.41 L230.72,143.41 L231.32,143.40 L231.92,143.40 L232.52,143.39 L233.13,143.38 L233.73,143.37 L234.33,143.37 L234.94,143.36 L235.54,143.35 L236.14,143.34 L236.75,143.33 L237.35,143.32 L237.96,143.31 L238.56,143.30 L239.17,143.28 L239.77,143.27 L240.38,143.26 L240.99,143.24 L241.59,143.23 L242.20,143.21 L242.81,143.20 L243.41,143.18 L244.02,143.16 L244.63,143.15 L245.24,143.13 L245.85,143.11 L246.46,143.09 L247.07,143.07 L247.68,143.05 L248.29,143.02 L248.90,143.00 L249.51,142.98 L250.12,142.95 L250.73,142.93 L251.34,142.90 L251.95,142.88 L252.57,142.85 L253.18,142.82 L253.79,142.79 L254.41,142.76 L255.02,142.73 L255.64,142.70 L256.25,142.67 L256.87,142.64 L257.48,142.60 L258.09,142.56 L258.71,142.51 L259.31,142.46 L259.92,142.40 L260.52,142.32 L261.12,142.24 L261.71,142.14 L262.29,142.03 L262.86,141.90 L263.43,141.75 L263.99,141.58 L264.54,141.39 L265.08,141.18 L265.60,140.94 L266.12,140.68 L266.62,140.39 L267.11,140.08 L267.58,139.75 L268.04,139.40 L268.48,139.02 L268.91,138.62 L269.31,138.20 L269.70,137.76 L270.06,137.30 L270.41,136.83 L270.74,136.33 L271.04,135.82 L271.33,135.29 L271.60,134.76 L271.85,134.20 L272.09,133.64 L272.31,133.07 L272.52,132.49 L272.72,131.91 L272.91,131.31 L273.09,130.72 L273.26,130.12 L273.42,129.52 L273.57,128.92 L273.73,128.32 L273.87,127.72 L274.01,127.13 L274.15,126.53 L274.28,125.94 L274.41,125.35 L274.54,124.76 L274.66,124.17 L274.78,123.58 L274.90,122.99 L275.01,122.40 L275.13,121.82 L275.24,121.23 L275.34,120.64 L275.45,120.05 L275.56,119.47 L275.66,118.88 L275.76,118.29 L275.86,117.71 L275.97,117.12 L276.07,116.53 L276.17,115.94 L276.27,115.35 L276.37,114.76 L276.48,114.17 L276.58,113.58 L276.68,112.99 L276.78,112.40 L276.88,111.81 L276.99,111.21 L277.09,110.62 L277.19,110.03 L277.29,109.43 L277.40,108.84 L277.50,108.25 L277.60,107.65 L277.70,107.06 L277.80,106.46 L277.91,105.87 L278.01,105.27 L278.11,104.67 L278.21,104.08 L278.32,103.48 L278.42,102.89 L278.52,102.29 L278.62,101.69 L278.73,101.10 L278.83,100.50 L278.93,99.90 L279.03,99.31 L279.14,98.71 L279.24,98.11 L279.34,97.52 L279.44,96.92 L279.55,96.33 L279.65,95.73 L279.75,95.13 L279.85,94.54 L279.96,93.94 L280.06,93.35 L280.16,92.75 L280.26,92.16 L280.36,91.57 L280.47,90.97 L280.57,90.38 L280.67,89.78 L280.77,89.19 L280.87,88.60 L280.98,88.01 L281.08,87.42 L281.18,86.83 L281.28,86.24 L281.38,85.65 L281.48,85.06 L281.59,84.47 L281.69,83.88 L281.79,83.29 L281.89,82.70 L281.99,82.12 L282.09,81.53 L282.19,80.95 L282.29,80.36 L282.40,79.78 L282.50,79.20 L282.60,78.61 L282.70,78.03 L282.80,77.45 L282.91,76.86 L283.01,76.28 L283.11,75.70 L283.22,75.12 L283.32,74.53 L283.43,73.95 L283.54,73.37 L283.65,72.78 L283.76,72.20 L283.87,71.61 L283.98,71.02 L284.09,70.43 L284.21,69.84 L284.33,69.25 L284.44,68.66 L284.56,68.07 L284.69,67.48 L284.81,66.88 L284.94,66.28 L285.06,65.68 L285.19,65.08 L285.33,64.48 L285.46,63.88 L285.60,63.27 L285.74,62.66 L285.88,62.05 L286.02,61.44 L286.17,60.82 L286.32,60.20 L286.48,59.59 L286.63,58.97 L286.80,58.35 L286.97,57.74 L287.15,57.13 L287.34,56.53 L287.54,55.93 L287.75,55.35 L287.97,54.77 L288.21,54.21 L288.46,53.66 L288.73,53.13 L289.01,52.61 L289.31,52.11 L289.63,51.63 L289.97,51.18 L290.33,50.74 L290.71,50.33 L291.11,49.95 L291.54,49.58 L291.98,49.23 L292.44,48.91 L292.91,48.60 L293.40,48.31 L293.91,48.03 L294.42,47.77 L294.95,47.52 L295.49,47.28 L296.04,47.05 L296.60,46.83 L297.17,46.61 L297.74,46.41 L298.32,46.21 L298.90,46.01 L299.48,45.81 L300.07,45.62 L300.66,45.42 L301.24,45.22 L301.83,45.02 L302.41,44.82 L302.99,44.61 L303.56,44.39 L304.13,44.17 L304.70,43.93 L305.25,43.69 L305.80,43.44 L306.34,43.17 L306.87,42.90 L307.40,42.62 L307.92,42.33 L308.43,42.03 L308.94,41.73 L309.44,41.41 L309.93,41.08 L310.41,40.74 L310.88,40.40 L311.35,40.04 L311.81,39.67 L312.26,39.30 L312.71,38.91 L313.14,38.52 L313.57,38.11 L313.99,37.69 L314.40,37.27 L314.80,36.83 L315.20,36.39 L315.59,35.93 L315.97,35.47 L316.34,34.99 L316.70,34.50 L317.05,34.01 L317.39,33.50 L317.73,32.98 L318.06,32.46 L318.37,31.92 L318.68,31.37 L318.98,30.81 L319.27,30.24 L319.55,29.66" stroke="#000"/><path d="M157.99,142.30 L158.50,142.27 L159.01,142.24 L159.52,142.21 L160.02,142.18 L160.53,142.15 L161.04,142.12 L161.54,142.09 L162.05,142.06 L162.56,142.03 L163.06,142.00 L163.57,141.97 L164.07,141.94 L164.57,141.91 L165.08,141.87 L165.58,141.84 L166.08,141.81 L166.59,141.78 L167.09,141.74 L167.59,141.71 L168.09,141.68 L168.59,141.64 L169.10,141.61 L169.60,141.57 L170.10,141.54 L170.60,141.50 L171.10,141.47 L171.60,141.43 L172.10,141.39 L172.60,141.36 L173.10,141.32 L173.59,141.28 L174.09,141.24 L174.59,141.20 L175.09,141.17 L175.59,141.13 L176.09,141.09 L176.58,141.05 L177.08,141.01 L177.58,140.97 L178.07,140.93 L178.57,140.89 L179.07,140.85 L179.57,140.80 L180.06,140.76 L180.56,140.72 L181.05,140.68 L181.55,140.63 L182.05,140.59 L182.54,140.55 L183.04,140.50 L183.54,140.46 L184.03,140.41 L184.53,140.37 L185.02,140.32 L185.52,140.28 L186.01,140.23 L186.51,140.18 L187.00,140.14 L187.50,140.09 L188.00,140.04 L188.49,139.99 L188.99,139.94 L189.48,139.90 L189.98,139.85 L190.47,139.80 L190.97,139.75 L191.46,139.70 L191.96,139.64 L192.46,139.59 L192.95,139.54 L193.45,139.49 L193.94,139.44 L194.44,139.39 L194.93,139.33 L195.43,139.28 L195.93,139.22 L196.42,139.17 L196.92,139.12 L197.42,139.06 L197.91,139.00 L198.41,138.95 L198.91,138.89 L199.40,138.84 L199.90,138.78 L200.40,138.72 L200.90,138.66 L201.39,138.60 L201.89,138.55 L202.39,138.49 L202.89,138.43 L203.39,138.37 L203.89,138.31 L204.38,138.25 L204.88,138.19 L205.38,138.12 L205.88,138.06 L206.38,138.00 L206.88,137.94 L207.38,137.87 L207.88,137.81 L208.38,137.74 L208.88,137.68 L209.38,137.61 L209.89,137.54 L210.39,137.48 L210.89,137.41 L211.39,137.34 L211.89,137.27 L212.39,137.20 L212.89,137.13 L213.39,137.05 L213.89,136.98 L214.39,136.90 L214.89,136.83 L215.39,136.75 L215.89,136.67 L216.39,136.59 L216.89,136.51 L217.39,136.43 L217.89,136.35 L218.39,136.26 L218.88,136.18 L219.38,136.09 L219.88,136.00 L220.38,135.91 L220.87,135.82 L221.37,135.73 L221.87,135.63 L222.36,135.54 L222.86,135.44 L223.35,135.34 L223.85,135.24 L224.34,135.14 L224.83,135.03 L225.33,134.93 L225.82,134.82 L226.31,134.71 L226.80,134.60 L227.29,134.49 L227.78,134.37 L228.27,134.25 L228.76,134.13 L229.24,134.01 L229.73,133.89 L230.22,133.76 L230.70,133.64 L231.19,133.51 L231.67,133.37 L232.15,133.24 L232.63,133.10 L233.12,132.96 L233.60,132.82 L234.07,132.68 L234.55,132.53 L235.03,132.38 L235.51,132.23 L235.98,132.08 L236.46,131.92 L236.93,131.77 L237.40,131.60 L237.87,131.44 L238.34,131.27 L238.81,131.10 L239.28,130.93 L239.74,130.76 L240.21,130.58 L240.67,130.40 L241.14,130.22 L241.60,130.03 L242.06,129.84 L242.52,129.65 L242.98,129.45 L243.43,129.25 L243.89,129.05 L244.34,128.85 L244.79,128.64 L245.24,128.43 L245.69,128.22 L246.14,128.00 L246.59,127.78 L247.03,127.55 L247.48,127.33 L247.92,127.10 L248.36,126.86 L248.80,126.62 L249.24,126.38 L249.67,126.14 L250.11,125.89 L250.54,125.64 L250.97,125.39 L251.40,125.13 L251.83,124.87 L252.25,124.61 L252.68,124.35 L253.10,124.08 L253.52,123.80 L253.93,123.53 L254.35,123.25 L254.76,122.97 L255.18,122.69 L255.59,122.40 L255.99,122.11 L256.40,121.81 L256.80,121.52 L257.21,121.22 L257.60,120.92 L258.00,120.61 L258.40,120.30 L258.79,119.99 L259.18,119.68 L259.57,119.36 L259.95,119.04 L260.34,118.72 L260.72,118.39 L261.10,118.06 L261.47,117.73 L261.85,117.40 L262.22,117.06 L262.59,116.72 L262.96,116.38 L263.32,116.03 L263.68,115.69 L264.04,115.33 L264.40,114.98 L264.75,114.62 L265.10,114.27 L265.45,113.90 L265.79,113.54 L266.14,113.17 L266.48,112.80 L266.81,112.43 L267.15,112.06 L267.48,111.68 L267.81,111.30 L268.13,110.92 L268.45,110.53 L268.77,110.14 L269.09,109.75 L269.40,109.36 L269.71,108.97 L270.02,108.57 L270.32,108.17 L270.62,107.77 L270.92,107.36 L271.22,106.95 L271.51,106.55 L271.80,106.13 L272.08,105.72 L272.36,105.30 L272.64,104.88 L272.91,104.46 L273.19,104.04 L273.45,103.61 L273.72,103.18 L273.98,102.75 L274.24,102.32 L274.49,101.88 L274.74,101.45 L274.99,101.01 L275.23,100.56 L275.47,100.12 L275.71,99.67 L275.94,99.23 L276.17,98.78 L276.40,98.32 L276.62,97.87 L276.85,97.42 L277.07,96.97 L277.29,96.51 L277.51,96.05 L277.73,95.60 L277.95,95.14 L278.17,94.69 L278.39,94.23 L278.62,93.78 L278.84,93.32 L279.06,92.87 L279.28,92.42 L279.51,91.97 L279.74,91.52 L279.97,91.07 L280.20,90.62 L280.44,90.18 L280.68,89.74 L280.92,89.30 L281.17,88.86 L281.42,88.42 L281.68,87.99 L281.94,87.56 L282.21,87.14 L282.48,86.72 L282.76,86.30 L283.04,85.89 L283.33,85.48 L283.62,85.08 L283.92,84.68 L284.23,84.29 L284.55,83.91 L284.87,83.53 L285.20,83.16 L285.53,82.80 L285.88,82.45 L286.23,82.11 L286.59,81.77 L286.95,81.44 L287.33,81.12 L287.71,80.81 L288.09,80.50 L288.49,80.21 L288.89,79.92 L289.29,79.63 L289.70,79.36 L290.12,79.08 L290.54,78.82 L290.96,78.56 L291.40,78.31 L291.83,78.07 L292.27,77.83 L292.72,77.59 L293.16,77.36 L293.62,77.14 L294.07,76.92 L294.53,76.70 L294.99,76.49 L295.45,76.28 L295.92,76.08 L296.38,75.88 L296.85,75.67 L297.32,75.47 L297.78,75.27 L298.25,75.06 L298.71,74.85 L299.17,74.64 L299.63,74.43 L300.08,74.21 L300.54,73.99 L300.98,73.76 L301.43,73.52 L301.87,73.28 L302.30,73.03 L302.73,72.78 L303.16,72.52 L303.58,72.25 L304.00,71.98 L304.41,71.71 L304.82,71.42 L305.22,71.14 L305.62,70.84 L306.02,70.55 L306.41,70.24 L306.79,69.93 L307.18,69.62 L307.55,69.30 L307.92,68.97 L308.29,68.64 L308.65,68.31 L309.01,67.96 L309.36,67.62 L309.71,67.27 L310.06,66.91 L310.39,66.55 L310.73,66.19 L311.06,65.82 L311.38,65.44 L311.70,65.07 L312.01,64.68 L312.32,64.29 L312.63,63.90 L312.93,63.51 L313.22,63.10 L313.51,62.70 L313.79,62.29 L314.07,61.88 L314.34,61.46 L314.61,61.04 L314.87,60.61 L315.13,60.18 L315.39,59.75 L315.63,59.31 L315.87,58.87 L316.11,58.43 L316.34,57.98 L316.57,57.53 L316.79,57.07 L317.00,56.61 L317.21,56.15 L317.42,55.69 L317.62,55.22 L317.81,54.75 L318.00,54.27 L318.18,53.79 L318.35,53.31 L318.53,52.83 L318.69,52.34 L318.85,51.85 L319.00,51.36 L319.15,50.86 L319.29,50.36 L319.43,49.86" stroke="#e8141c"/><path d="M157.99,142.59 L158.47,142.57 L158.95,142.56 L159.43,142.55 L159.91,142.54 L160.39,142.53 L160.87,142.52 L161.34,142.50 L161.82,142.49 L162.30,142.48 L162.78,142.46 L163.25,142.45 L163.73,142.44 L164.21,142.42 L164.69,142.41 L165.16,142.40 L165.64,142.38 L166.12,142.37 L166.60,142.35 L167.07,142.34 L167.55,142.32 L168.03,142.31 L168.50,142.29 L168.98,142.28 L169.46,142.26 L169.93,142.25 L170.41,142.23 L170.89,142.21 L171.36,142.20 L171.84,142.18 L172.32,142.16 L172.79,142.15 L173.27,142.13 L173.74,142.11 L174.22,142.09 L174.70,142.08 L175.17,142.06 L175.65,142.04 L176.12,142.02 L176.60,142.00 L177.08,141.98 L177.55,141.97 L178.03,141.95 L178.50,141.93 L178.98,141.91 L179.45,141.89 L179.93,141.87 L180.40,141.85 L180.88,141.83 L181.35,141.81 L181.83,141.79 L182.30,141.77 L182.78,141.75 L183.25,141.73 L183.73,141.71 L184.20,141.68 L184.68,141.66 L185.15,141.64 L185.63,141.62 L186.10,141.60 L186.58,141.58 L187.05,141.55 L187.53,141.53 L188.00,141.51 L188.48,141.49 L188.95,141.47 L189.43,141.44 L189.90,141.42 L190.38,141.40 L190.85,141.37 L191.33,141.35 L191.80,141.33 L192.28,141.30 L192.75,141.28 L193.23,141.25 L193.70,141.23 L194.18,141.21 L194.65,141.18 L195.13,141.16 L195.60,141.13 L196.07,141.11 L196.55,141.08 L197.02,141.06 L197.50,141.03 L197.97,141.01 L198.45,140.98 L198.92,140.96 L199.40,140.93 L199.87,140.91 L200.35,140.88 L200.82,140.85 L201.30,140.83 L201.77,140.80 L202.25,140.77 L202.72,140.75 L203.20,140.72 L203.67,140.69 L204.15,140.67 L204.62,140.64 L205.10,140.61 L205.57,140.59 L206.05,140.56 L206.52,140.53 L207.00,140.50 L207.47,140.48 L207.95,140.45 L208.42,140.42 L208.90,140.39 L209.37,140.36 L209.85,140.34 L210.32,140.31 L210.80,140.28 L211.28,140.25 L211.75,140.22 L212.23,140.19 L212.70,140.16 L213.18,140.13 L213.65,140.11 L214.13,140.08 L214.61,140.05 L215.08,140.02 L215.56,139.99 L216.03,139.96 L216.51,139.93 L216.99,139.90 L217.46,139.87 L217.94,139.84 L218.42,139.81 L218.89,139.78 L219.37,139.75 L219.84,139.72 L220.32,139.69 L220.80,139.66 L221.28,139.63 L221.75,139.60 L222.23,139.57 L222.71,139.53 L223.18,139.50 L223.66,139.47 L224.14,139.44 L224.62,139.41 L225.09,139.38 L225.57,139.35 L226.05,139.32 L226.53,139.28 L227.00,139.25 L227.48,139.22 L227.96,139.19 L228.44,139.16 L228.92,139.12 L229.39,139.09 L229.87,139.06 L230.35,139.02 L230.83,138.99 L231.31,138.95 L231.78,138.92 L232.26,138.88 L232.74,138.85 L233.22,138.81 L233.69,138.77 L234.17,138.74 L234.65,138.70 L235.13,138.66 L235.60,138.62 L236.08,138.58 L236.56,138.53 L237.04,138.49 L237.51,138.45 L237.99,138.41 L238.46,138.36 L238.94,138.31 L239.42,138.27 L239.89,138.22 L240.37,138.17 L240.84,138.12 L241.32,138.07 L241.79,138.02 L242.27,137.97 L242.74,137.91 L243.22,137.86 L243.69,137.80 L244.16,137.74 L244.64,137.68 L245.11,137.62 L245.58,137.56 L246.06,137.50 L246.53,137.43 L247.00,137.36 L247.47,137.30 L247.94,137.23 L248.41,137.16 L248.88,137.08 L249.35,137.01 L249.82,136.94 L250.29,136.86 L250.76,136.78 L251.23,136.70 L251.69,136.62 L252.16,136.53 L252.63,136.45 L253.09,136.36 L253.56,136.27 L254.03,136.18 L254.49,136.09 L254.95,135.99 L255.42,135.89 L255.88,135.79 L256.34,135.69 L256.81,135.59 L257.27,135.48 L257.73,135.38 L258.19,135.27 L258.65,135.15 L259.11,135.04 L259.57,134.92 L260.03,134.81 L260.48,134.69 L260.94,134.56 L261.40,134.44 L261.85,134.31 L262.31,134.18 L262.76,134.04 L263.21,133.91 L263.67,133.77 L264.12,133.63 L264.57,133.49 L265.02,133.34 L265.47,133.19 L265.92,133.04 L266.37,132.89 L266.82,132.74 L267.27,132.58 L267.71,132.42 L268.16,132.26 L268.61,132.10 L269.05,131.94 L269.50,131.78 L269.95,131.61 L270.39,131.44 L270.84,131.27 L271.28,131.11 L271.73,130.94 L272.17,130.76 L272.61,130.59 L273.06,130.42 L273.50,130.25 L273.95,130.07 L274.39,129.90 L274.84,129.72 L275.28,129.55 L275.72,129.38 L276.17,129.20 L276.61,129.03 L277.06,128.85 L277.50,128.68 L277.95,128.51 L278.40,128.33 L278.84,128.16 L279.29,127.99 L279.74,127.82 L280.18,127.65 L280.63,127.48 L281.08,127.31 L281.53,127.14 L281.98,126.98 L282.43,126.81 L282.88,126.65 L283.33,126.49 L283.78,126.33 L284.23,126.17 L284.68,126.01 L285.13,125.85 L285.58,125.69 L286.04,125.53 L286.49,125.37 L286.94,125.20 L287.39,125.04 L287.84,124.88 L288.28,124.71 L288.73,124.54 L289.18,124.37 L289.62,124.20 L290.07,124.02 L290.51,123.84 L290.95,123.66 L291.39,123.48 L291.83,123.29 L292.27,123.10 L292.70,122.90 L293.13,122.70 L293.56,122.50 L293.99,122.29 L294.42,122.07 L294.84,121.85 L295.26,121.63 L295.68,121.40 L296.10,121.17 L296.51,120.93 L296.92,120.68 L297.32,120.43 L297.72,120.18 L298.12,119.92 L298.51,119.66 L298.90,119.39 L299.29,119.11 L299.67,118.83 L300.04,118.54 L300.41,118.25 L300.78,117.95 L301.14,117.65 L301.50,117.34 L301.84,117.03 L302.19,116.71 L302.53,116.38 L302.86,116.05 L303.18,115.71 L303.50,115.37 L303.82,115.02 L304.12,114.66 L304.43,114.30 L304.72,113.94 L305.01,113.57 L305.30,113.19 L305.58,112.81 L305.85,112.43 L306.12,112.04 L306.38,111.65 L306.65,111.25 L306.90,110.85 L307.15,110.45 L307.40,110.04 L307.65,109.63 L307.89,109.22 L308.13,108.81 L308.36,108.39 L308.59,107.97 L308.82,107.55 L309.05,107.13 L309.27,106.71 L309.49,106.28 L309.71,105.86 L309.93,105.43 L310.15,105.00 L310.36,104.57 L310.57,104.14 L310.78,103.71 L310.99,103.28 L311.19,102.84 L311.40,102.41 L311.60,101.97 L311.80,101.54 L312.00,101.10 L312.19,100.66 L312.39,100.23 L312.58,99.79 L312.77,99.35 L312.96,98.91 L313.15,98.47 L313.34,98.03 L313.53,97.59 L313.71,97.15 L313.90,96.71 L314.08,96.26 L314.26,95.82 L314.44,95.38 L314.62,94.94 L314.80,94.50 L314.98,94.05 L315.16,93.61 L315.34,93.17 L315.51,92.73 L315.69,92.29 L315.86,91.84 L316.03,91.40 L316.21,90.96 L316.38,90.52 L316.55,90.08 L316.72,89.63 L316.88,89.19 L317.05,88.75 L317.21,88.30 L317.37,87.86 L317.52,87.41 L317.68,86.97 L317.83,86.52 L317.98,86.07 L318.12,85.62 L318.26,85.17 L318.40,84.72 L318.54,84.26 L318.67,83.81 L318.79,83.35 L318.92,82.89 L319.03,82.43 L319.15,81.97 L319.26,81.50 L319.36,81.04 L319.46,80.57 L319.55,80.10 L319.64,79.62" stroke="#1d1ee6"/><path d="M158.00,142.47 L158.48,142.46 L158.96,142.45 L159.44,142.43 L159.92,142.42 L160.40,142.41 L160.88,142.39 L161.37,142.38 L161.85,142.37 L162.33,142.35 L162.81,142.34 L163.29,142.32 L163.77,142.31 L164.25,142.29 L164.73,142.28 L165.21,142.26 L165.69,142.25 L166.18,142.23 L166.66,142.22 L167.14,142.20 L167.62,142.19 L168.10,142.17 L168.58,142.16 L169.06,142.14 L169.54,142.12 L170.02,142.11 L170.51,142.09 L170.99,142.07 L171.47,142.06 L171.95,142.04 L172.43,142.02 L172.91,142.01 L173.39,141.99 L173.88,141.97 L174.36,141.95 L174.84,141.94 L175.32,141.92 L175.80,141.90 L176.28,141.88 L176.76,141.86 L177.24,141.85 L177.73,141.83 L178.21,141.81 L178.69,141.79 L179.17,141.77 L179.65,141.75 L180.13,141.73 L180.62,141.71 L181.10,141.69 L181.58,141.67 L182.06,141.65 L182.54,141.63 L183.02,141.61 L183.50,141.59 L183.99,141.57 L184.47,141.55 L184.95,141.52 L185.43,141.50 L185.91,141.48 L186.39,141.46 L186.87,141.44 L187.36,141.41 L187.84,141.39 L188.32,141.37 L188.80,141.35 L189.28,141.32 L189.76,141.30 L190.24,141.28 L190.73,141.25 L191.21,141.23 L191.69,141.20 L192.17,141.18 L192.65,141.16 L193.13,141.13 L193.61,141.11 L194.09,141.08 L194.58,141.06 L195.06,141.03 L195.54,141.00 L196.02,140.98 L196.50,140.95 L196.98,140.93 L197.46,140.90 L197.94,140.87 L198.43,140.84 L198.91,140.82 L199.39,140.79 L199.87,140.76 L200.35,140.73 L200.83,140.71 L201.31,140.68 L201.79,140.65 L202.27,140.62 L202.75,140.59 L203.23,140.56 L203.71,140.53 L204.20,140.50 L204.68,140.47 L205.16,140.44 L205.64,140.41 L206.12,140.38 L206.60,140.35 L207.08,140.32 L207.56,140.29 L208.04,140.25 L208.52,140.22 L209.00,140.19 L209.48,140.16 L209.96,140.13 L210.44,140.09 L210.92,140.06 L211.40,140.03 L211.88,139.99 L212.36,139.96 L212.84,139.92 L213.32,139.89 L213.80,139.85 L214.28,139.82 L214.76,139.78 L215.24,139.75 L215.72,139.71 L216.20,139.68 L216.68,139.64 L217.16,139.60 L217.64,139.57 L218.12,139.53 L218.60,139.49 L219.08,139.45 L219.55,139.42 L220.03,139.38 L220.51,139.34 L220.99,139.30 L221.47,139.26 L221.95,139.22 L222.43,139.18 L222.91,139.14 L223.39,139.10 L223.87,139.06 L224.34,139.02 L224.82,138.98 L225.30,138.94 L225.78,138.89 L226.26,138.85 L226.74,138.81 L227.21,138.76 L227.69,138.72 L228.17,138.67 L228.65,138.63 L229.13,138.58 L229.61,138.54 L230.08,138.49 L230.56,138.44 L231.04,138.39 L231.52,138.35 L232.00,138.30 L232.48,138.25 L232.95,138.20 L233.43,138.14 L233.91,138.09 L234.39,138.04 L234.87,137.99 L235.35,137.93 L235.82,137.88 L236.30,137.82 L236.78,137.77 L237.26,137.71 L237.74,137.65 L238.21,137.60 L238.69,137.54 L239.17,137.48 L239.65,137.42 L240.13,137.36 L240.61,137.29 L241.09,137.23 L241.56,137.17 L242.04,137.10 L242.52,137.04 L243.00,136.97 L243.48,136.90 L243.96,136.83 L244.44,136.76 L244.91,136.69 L245.39,136.62 L245.87,136.55 L246.35,136.48 L246.83,136.40 L247.31,136.32 L247.79,136.24 L248.26,136.16 L248.74,136.08 L249.22,136.00 L249.70,135.91 L250.17,135.82 L250.65,135.72 L251.12,135.62 L251.60,135.52 L252.07,135.42 L252.55,135.31 L253.02,135.20 L253.49,135.09 L253.96,134.97 L254.43,134.84 L254.90,134.72 L255.36,134.59 L255.83,134.45 L256.29,134.31 L256.75,134.17 L257.21,134.02 L257.67,133.86 L258.12,133.71 L258.57,133.54 L259.02,133.37 L259.47,133.20 L259.91,133.02 L260.36,132.84 L260.79,132.65 L261.23,132.46 L261.66,132.26 L262.09,132.05 L262.52,131.84 L262.94,131.62 L263.36,131.40 L263.78,131.17 L264.19,130.93 L264.60,130.69 L265.00,130.44 L265.40,130.19 L265.80,129.93 L266.19,129.66 L266.59,129.39 L266.97,129.12 L267.36,128.84 L267.74,128.56 L268.12,128.27 L268.50,127.98 L268.87,127.68 L269.25,127.38 L269.62,127.07 L269.98,126.77 L270.35,126.46 L270.72,126.14 L271.08,125.83 L271.44,125.51 L271.80,125.19 L272.16,124.86 L272.52,124.54 L272.87,124.21 L273.23,123.88 L273.59,123.55 L273.94,123.22 L274.30,122.88 L274.65,122.55 L275.00,122.22 L275.36,121.88 L275.71,121.55 L276.06,121.21 L276.42,120.88 L276.77,120.54 L277.13,120.21 L277.48,119.88 L277.84,119.54 L278.20,119.21 L278.55,118.88 L278.91,118.55 L279.27,118.23 L279.64,117.90 L280.00,117.58 L280.37,117.26 L280.73,116.94 L281.10,116.63 L281.47,116.32 L281.85,116.01 L282.22,115.70 L282.60,115.40 L282.98,115.10 L283.36,114.81 L283.75,114.51 L284.13,114.22 L284.52,113.93 L284.91,113.65 L285.30,113.37 L285.69,113.09 L286.09,112.81 L286.48,112.53 L286.88,112.26 L287.28,111.98 L287.68,111.71 L288.07,111.44 L288.47,111.17 L288.88,110.91 L289.28,110.64 L289.68,110.37 L290.08,110.11 L290.48,109.84 L290.88,109.58 L291.29,109.31 L291.69,109.05 L292.09,108.79 L292.49,108.52 L292.89,108.26 L293.29,107.99 L293.69,107.73 L294.09,107.46 L294.49,107.19 L294.89,106.93 L295.28,106.66 L295.68,106.39 L296.07,106.12 L296.47,105.84 L296.86,105.57 L297.25,105.29 L297.63,105.01 L298.02,104.73 L298.41,104.45 L298.79,104.16 L299.17,103.87 L299.55,103.58 L299.92,103.29 L300.29,102.99 L300.66,102.69 L301.03,102.39 L301.40,102.09 L301.76,101.78 L302.12,101.47 L302.48,101.15 L302.83,100.83 L303.18,100.51 L303.53,100.19 L303.87,99.86 L304.21,99.53 L304.54,99.19 L304.88,98.85 L305.20,98.50 L305.53,98.16 L305.85,97.80 L306.16,97.45 L306.48,97.09 L306.78,96.72 L307.09,96.35 L307.39,95.98 L307.68,95.61 L307.98,95.23 L308.27,94.84 L308.55,94.46 L308.83,94.07 L309.11,93.68 L309.39,93.29 L309.66,92.89 L309.93,92.49 L310.20,92.09 L310.47,91.68 L310.73,91.28 L310.99,90.87 L311.24,90.46 L311.50,90.04 L311.75,89.63 L312.00,89.21 L312.24,88.79 L312.49,88.37 L312.73,87.95 L312.96,87.53 L313.20,87.10 L313.43,86.67 L313.66,86.24 L313.88,85.81 L314.10,85.38 L314.32,84.94 L314.54,84.51 L314.75,84.07 L314.96,83.63 L315.17,83.19 L315.37,82.75 L315.57,82.31 L315.77,81.86 L315.96,81.42 L316.15,80.97 L316.34,80.52 L316.52,80.08 L316.70,79.63 L316.88,79.18 L317.05,78.73 L317.22,78.27 L317.39,77.82 L317.55,77.37 L317.71,76.91 L317.87,76.46 L318.02,76.00 L318.17,75.55 L318.32,75.09 L318.46,74.64 L318.60,74.18 L318.73,73.72 L318.86,73.26 L318.99,72.81 L319.11,72.35 L319.23,71.89 L319.35,71.43 L319.46,70.97 L319.57,70.51 L319.67,70.05" stroke="#f012f0"/></g><path d="M157.8,24.2 H319.7 V158.9 H157.8 Z" stroke="#606060" stroke-width="1.3" fill="none"/><path d="M155.3,143.30 H157.8 M155.3,113.52 H157.8 M155.3,83.74 H157.8 M155.3,53.96 H157.8 M155.3,24.18 H157.8 M156.3,128.41 H157.8 M156.3,98.63 H157.8 M156.3,68.85 H157.8 M156.3,39.07 H157.8 M185.70,158.9 V161.4 M241.60,158.9 V161.4 M297.50,158.9 V161.4 M213.65,158.9 V160.4 M269.55,158.9 V160.4" stroke="#606060" stroke-width="1.1" fill="none"/><rect x="176.6" y="40.6" width="74.3" height="35" fill="#000"/><rect x="173.5" y="37.5" width="74.3" height="35" fill="#fff" stroke="#555" stroke-width="0.9"/><path d="M175.1,42.4 H188.9" stroke="#2a2a2a" stroke-width="1.5"/><text x="190.8" y="44.30" font-family="Liberation Serif" font-weight="bold" font-size="6.9" fill="#111">Undoped ZnO</text><path d="M175.1,51.3 H188.9" stroke="#e8141c" stroke-width="1.5"/><text x="190.8" y="53.20" font-family="Liberation Serif" font-weight="bold" font-size="6.9" fill="#111">1% Sb doped ZnO</text><path d="M175.1,60.1 H188.9" stroke="#1d1ee6" stroke-width="1.5"/><text x="190.8" y="62.00" font-family="Liberation Serif" font-weight="bold" font-size="6.9" fill="#111">2% Sb doped ZnO</text><path d="M175.1,68.9 H188.9" stroke="#f012f0" stroke-width="1.5"/><text x="190.8" y="70.80" font-family="Liberation Serif" font-weight="bold" font-size="6.9" fill="#111">3% Sb doped ZnO</text><text transform="translate(35.7,222.80) scale(1,1.06)" font-family="Liberation Serif" font-weight="bold" stroke="#111" stroke-width="0.25" font-size="11.6" text-anchor="end" fill="#111">0.0</text><text transform="translate(35.7,187.25) scale(1,1.06)" font-family="Liberation Serif" font-weight="bold" stroke="#111" stroke-width="0.25" font-size="11.6" text-anchor="end" fill="#111">0.2</text><text transform="translate(35.7,151.70) scale(1,1.06)" font-family="Liberation Serif" font-weight="bold" stroke="#111" stroke-width="0.25" font-size="11.6" text-anchor="end" fill="#111">0.4</text><text transform="translate(35.7,116.15) scale(1,1.06)" font-family="Liberation Serif" font-weight="bold" stroke="#111" stroke-width="0.25" font-size="11.6" text-anchor="end" fill="#111">0.6</text><text transform="translate(35.7,80.60) scale(1,1.06)" font-family="Liberation Serif" font-weight="bold" stroke="#111" stroke-width="0.25" font-size="11.6" text-anchor="end" fill="#111">0.8</text><text transform="translate(35.7,45.05) scale(1,1.06)" font-family="Liberation Serif" font-weight="bold" stroke="#111" stroke-width="0.25" font-size="11.6" text-anchor="end" fill="#111">1.0</text><text transform="translate(35.7,9.50) scale(1,1.06)" font-family="Liberation Serif" font-weight="bold" stroke="#111" stroke-width="0.25" font-size="11.6" text-anchor="end" fill="#111">1.2</text><text transform="translate(66.20,254.6) scale(1,1.07)" font-family="Liberation Serif" font-weight="bold" stroke="#111" stroke-width="0.25" font-size="11.5" text-anchor="middle" fill="#111">300</text><text transform="translate(110.72,254.6) scale(1,1.07)" font-family="Liberation Serif" font-weight="bold" stroke="#111" stroke-width="0.25" font-size="11.5" text-anchor="middle" fill="#111">400</text><text transform="translate(155.23,254.6) scale(1,1.07)" font-family="Liberation Serif" font-weight="bold" stroke="#111" stroke-width="0.25" font-size="11.5" text-anchor="middle" fill="#111">500</text><text transform="translate(199.75,254.6) scale(1,1.07)" font-family="Liberation Serif" font-weight="bold" stroke="#111" stroke-width="0.25" font-size="11.5" text-anchor="middle" fill="#111">600</text><text transform="translate(244.27,254.6) scale(1,1.07)" font-family="Liberation Serif" font-weight="bold" stroke="#111" stroke-width="0.25" font-size="11.5" text-anchor="middle" fill="#111">700</text><text transform="translate(288.79,254.6) scale(1,1.07)" font-family="Liberation Serif" font-weight="bold" stroke="#111" stroke-width="0.25" font-size="11.5" text-anchor="middle" fill="#111">800</text><text transform="translate(333.30,254.6) scale(1,1.07)" font-family="Liberation Serif" font-weight="bold" stroke="#111" stroke-width="0.25" font-size="11.5" text-anchor="middle" fill="#111">900</text><text transform="translate(199.5,276.5) scale(1,1.06)" x="0" y="0" font-family="Liberation Serif" font-weight="bold" stroke="#111" stroke-width="0.25" font-size="13.2" text-anchor="middle" fill="#111">Wavelength (nm)</text><text transform="translate(10.4,129.6) rotate(-90) scale(1,0.88)" x="0" y="0" font-family="Liberation Serif" font-weight="bold" stroke="#111" stroke-width="0.25" font-size="13.6" text-anchor="middle" fill="#111">Absorbance (a.u.)</text><text x="153.6" y="146.40" font-family="Liberation Serif" font-weight="bold" stroke="#111" stroke-width="0.25" font-size="8.3" text-anchor="end" fill="#111">0.0</text><text x="153.6" y="116.62" font-family="Liberation Serif" font-weight="bold" stroke="#111" stroke-width="0.25" font-size="8.3" text-anchor="end" fill="#111">0.2</text><text x="153.6" y="86.84" font-family="Liberation Serif" font-weight="bold" stroke="#111" stroke-width="0.25" font-size="8.3" text-anchor="end" fill="#111">0.4</text><text x="153.6" y="57.06" font-family="Liberation Serif" font-weight="bold" stroke="#111" stroke-width="0.25" font-size="8.3" text-anchor="end" fill="#111">0.6</text><text x="153.6" y="27.28" font-family="Liberation Serif" font-weight="bold" stroke="#111" stroke-width="0.25" font-size="8.3" text-anchor="end" fill="#111">0.8</text><text x="185.70" y="170.4" font-family="Liberation Serif" font-weight="bold" stroke="#111" stroke-width="0.25" font-size="8.3" text-anchor="middle" fill="#111">2.5</text><text x="241.60" y="170.4" font-family="Liberation Serif" font-weight="bold" stroke="#111" stroke-width="0.25" font-size="8.3" text-anchor="middle" fill="#111">3.0</text><text x="297.50" y="170.4" font-family="Liberation Serif" font-weight="bold" stroke="#111" stroke-width="0.25" font-size="8.3" text-anchor="middle" fill="#111">3.5</text><text transform="translate(239.4,184.3) scale(0.9,1)" x="0" y="0" font-family="Liberation Sans" font-weight="bold" font-size="10" text-anchor="middle" fill="#111">Energy (eV)</text><text transform="translate(136.6,97.6) rotate(-90)" font-family="Liberation Serif" font-weight="bold" stroke="#111" stroke-width="0.25" font-size="7.4" letter-spacing="0.45" text-anchor="middle" fill="#111">(Ahv)<tspan font-size="4.6" dy="-3.4">2</tspan></text></svg>
</body></html>
